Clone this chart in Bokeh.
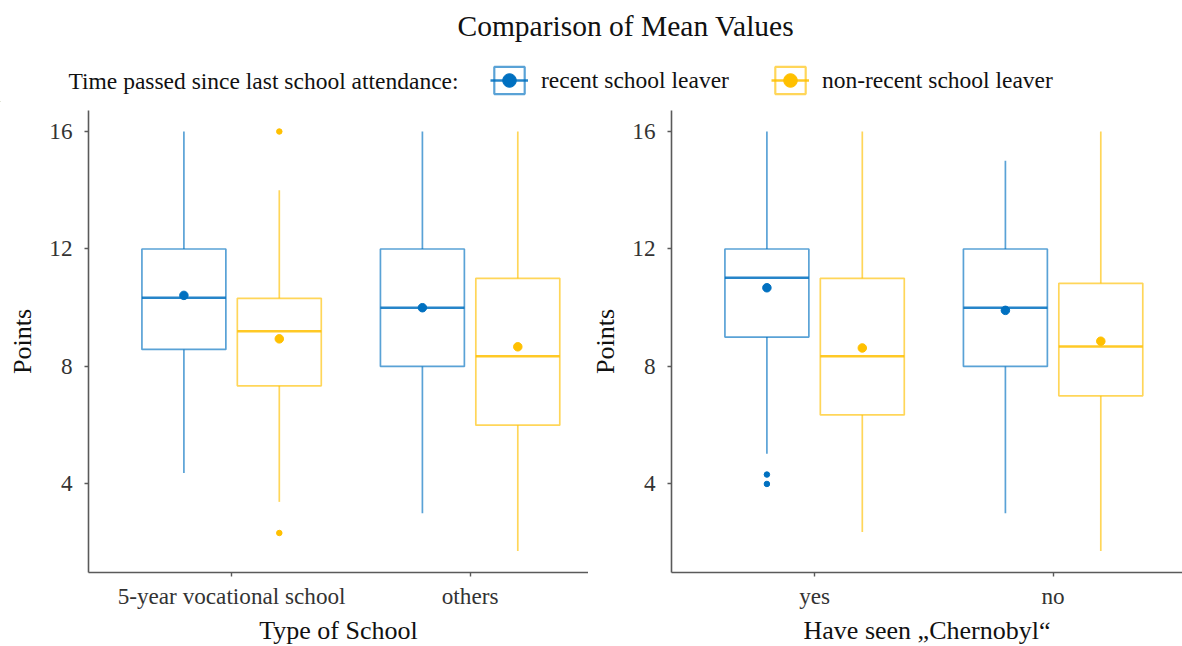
import math
from bokeh.plotting import figure
from bokeh.models import ColumnDataSource, Range1d, FixedTicker, Legend, LegendItem, Label
from bokeh.layouts import column, row
from bokeh.embed import file_html
from bokeh.resources import INLINE

FONT = "Liberation Serif"
BLUE = "#0070C0"
YELLOW = "#FFC000"

# ---------------- data ----------------
groups = ["recent school leaver", "non-recent school leaver"]
school_types = ["5-year vocational school", "others"]
seen_chernobyl = ["yes", "no"]
y_ticks = [4, 8, 12, 16]

# Type of School panel  (order: 5-year vocational school, others)
school_recent_lower = [4.37, 3.0]
school_recent_q1 = [8.58, 8.0]
school_recent_median = [10.34, 10.0]
school_recent_q3 = [12.0, 12.0]
school_recent_upper = [16.0, 16.0]
school_recent_mean = [10.42, 10.0]

school_nonrecent_lower = [3.39, 1.72]
school_nonrecent_q1 = [7.34, 6.0]
school_nonrecent_median = [9.2, 8.35]
school_nonrecent_q3 = [10.32, 11.0]
school_nonrecent_upper = [14.0, 16.0]
school_nonrecent_mean = [8.94, 8.67]

school_outlier_cat = [0, 0]
school_outlier_group = [1, 1]
school_outlier_value = [16.0, 2.33]

# Have seen "Chernobyl" panel  (order: yes, no)
cher_recent_lower = [5.03, 3.0]
cher_recent_q1 = [9.0, 8.0]
cher_recent_median = [11.02, 10.0]
cher_recent_q3 = [12.0, 12.0]
cher_recent_upper = [16.0, 15.0]
cher_recent_mean = [10.68, 9.91]

cher_nonrecent_lower = [2.36, 1.72]
cher_nonrecent_q1 = [6.35, 7.0]
cher_nonrecent_median = [8.35, 8.68]
cher_nonrecent_q3 = [11.0, 10.83]
cher_nonrecent_upper = [16.0, 16.0]
cher_nonrecent_mean = [8.63, 8.86]

cher_outlier_cat = [0, 0]
cher_outlier_group = [0, 0]
cher_outlier_value = [4.32, 4.0]

# ---------------- styling ----------------
COLORS = [BLUE, YELLOW]
DODGE = [-0.2, 0.2]
BOX_W = 0.352
BOX_ALPHA = 0.65
MED_ALPHA = 0.85
Y_START, Y_END = 0.985, 16.715
X_START = 0.4
PX_PER_UNIT = 238.5


def style_axes(p, xlabel, cats):
    p.outline_line_color = None
    p.grid.visible = False
    p.xaxis.ticker = FixedTicker(ticks=[1, 2])
    p.xaxis.major_label_overrides = {i + 1: c for i, c in enumerate(cats)}
    p.yaxis.ticker = FixedTicker(ticks=y_ticks)
    p.xaxis.axis_label = xlabel
    p.yaxis.axis_label = "Points"
    for ax in (p.xaxis, p.yaxis):
        ax.axis_line_color = "#5a5a5a"
        ax.axis_line_width = 1.6
        ax.major_tick_line_color = "#5a5a5a"
        ax.major_tick_line_width = 1.4
        ax.major_tick_out = 4
        ax.major_tick_in = 0
        ax.minor_tick_line_color = None
        ax.major_label_text_font = FONT
        ax.major_label_text_font_size = "23.2px"
        ax.major_label_text_color = "#333333"
        ax.axis_label_text_font = FONT
        ax.axis_label_text_font_size = "26px"
        ax.axis_label_text_font_style = "normal"
        ax.axis_label_text_color = "#111111"
    p.xaxis.major_label_standoff = 6
    p.xaxis.axis_label_standoff = 4
    p.yaxis.major_label_standoff = 12
    p.yaxis.axis_label_standoff = 9


def make_panel(cats, stats, out_cat, out_group, out_value, xlabel, border_left, frame_w):
    p = figure(x_range=Range1d(X_START, X_START + frame_w / PX_PER_UNIT),
               y_range=Range1d(Y_START, Y_END),
               frame_width=frame_w, frame_height=462,
               min_border_left=border_left, min_border_right=0,
               min_border_top=8, min_border_bottom=10,
               output_backend="svg", toolbar_location=None)
    style_axes(p, xlabel, cats)
    for g, (lower, q1, med, q3, upper, mean) in enumerate(stats):
        color = COLORS[g]
        xs = [i + 1 + DODGE[g] for i in range(len(cats))]
        src = ColumnDataSource(dict(
            x=xs, x0=[x - BOX_W / 2 for x in xs], x1=[x + BOX_W / 2 for x in xs],
            lower=lower, q1=q1, med=med, q3=q3, upper=upper, mean=mean))
        p.segment(x0="x", y0="q3", x1="x", y1="upper", source=src,
                  line_color=color, line_alpha=BOX_ALPHA, line_width=1.7)
        p.segment(x0="x", y0="q1", x1="x", y1="lower", source=src,
                  line_color=color, line_alpha=BOX_ALPHA, line_width=1.7)
        p.vbar(x="x", width=BOX_W, bottom="q1", top="q3", source=src,
               fill_color="white", fill_alpha=0, line_color=color,
               line_alpha=BOX_ALPHA, line_width=1.7)
        p.segment(x0="x0", y0="med", x1="x1", y1="med", source=src,
                  line_color=color, line_alpha=MED_ALPHA, line_width=2.6)
        p.scatter(x="x", y="mean", source=src, marker="circle", size=8.5,
                  fill_color=color, line_color=color)
    ox = [c + 1 + DODGE[g] for c, g in zip(out_cat, out_group)]
    ocol = [COLORS[g] for g in out_group]
    osrc = ColumnDataSource(dict(x=ox, y=out_value, color=ocol))
    p.scatter(x="x", y="y", source=osrc, marker="circle", size=5.5,
              fill_color="color", line_color="color")
    return p


left = make_panel(
    school_types,
    [(school_recent_lower, school_recent_q1, school_recent_median, school_recent_q3,
      school_recent_upper, school_recent_mean),
     (school_nonrecent_lower, school_nonrecent_q1, school_nonrecent_median,
      school_nonrecent_q3, school_nonrecent_upper, school_nonrecent_mean)],
    school_outlier_cat, school_outlier_group, school_outlier_value,
    "Type of School", 88, 500)

right = make_panel(
    seen_chernobyl,
    [(cher_recent_lower, cher_recent_q1, cher_recent_median, cher_recent_q3,
      cher_recent_upper, cher_recent_mean),
     (cher_nonrecent_lower, cher_nonrecent_q1, cher_nonrecent_median,
      cher_nonrecent_q3, cher_nonrecent_upper, cher_nonrecent_mean)],
    cher_outlier_cat, cher_outlier_group, cher_outlier_value,
    "Have seen \u201eChernobyl\u201c", 83, 511)

# ---------------- header: title + legend ----------------
head = figure(width=1182, height=102, x_range=Range1d(0, 1), y_range=Range1d(0, 1),
              x_axis_location=None, y_axis_location=None,
              min_border=0, min_border_top=43,
              output_backend="svg", toolbar_location=None)
head.outline_line_color = None
head.grid.visible = False
head.title.text = "Comparison of Mean Values"
head.title.text_font = FONT
head.title.text_font_size = "29.5px"
head.title.text_font_style = "normal"
head.title.text_color = "#111111"
head.title.align = "left"
head.title.offset = 457
head.title.standoff = 4

head.add_layout(Label(x=68, y=22, x_units="screen", y_units="screen",
                      text="Time passed since last school attendance:",
                      text_font=FONT, text_font_size="23.5px", text_color="#111111",
                      text_baseline="middle", text_align="left"))

# legend key renderers: a single point kept outside the visible header range
key_src = ColumnDataSource(dict(x=[-5.0], y=[-5.0], top=[-5.0], bottom=[-6.0]))
items = []
for g, label in enumerate(groups):
    color = COLORS[g]
    r_box = head.vbar(x="x", top="top", bottom="bottom", width=0.1, source=key_src,
                      fill_color="white", fill_alpha=0, line_color=color,
                      line_alpha=BOX_ALPHA, line_width=2.2)
    r_med = head.line(x="x", y="y", source=key_src, line_color=color,
                      line_alpha=MED_ALPHA, line_width=2.4)
    r_mean = head.scatter(x="x", y="y", source=key_src, marker="circle", size=10,
                          fill_color=color, line_color=color)
    items.append(LegendItem(label=label, renderers=[r_box, r_med, r_mean]))

legend = Legend(items=items, orientation="horizontal",
                label_text_font=FONT, label_text_font_size="23.5px",
                label_text_color="#111111", label_standoff=13, spacing=42,
                glyph_width=38, glyph_height=34, padding=0, margin=0,
                border_line_color=None, background_fill_alpha=0,
                location=(490, 5))
head.add_layout(legend)

layout = column(head, row(left, right))
open("out.html", "w").write(file_html(layout, INLINE))
